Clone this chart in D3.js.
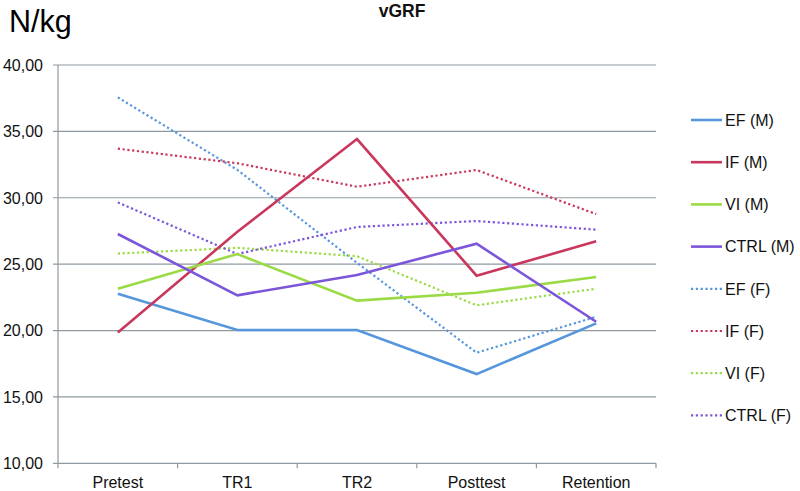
<!DOCTYPE html>
<html>
<head>
<meta charset="utf-8">
<script src="https://cdn.jsdelivr.net/npm/d3@7"></script>
<style>
body{margin:0;background:#fff;}
text{font-family:"Liberation Sans",Arial,sans-serif;}
</style>
</head>
<body>
<svg id="c" width="800" height="491"></svg>
<script>
const categories = ["Pretest","TR1","TR2","Posttest","Retention"];
const yTicks = [10,15,20,25,30,35,40];
const seriesNames = ["EF (M)","IF (M)","VI (M)","CTRL (M)","EF (F)","IF (F)","VI (F)","CTRL (F)"];
const efM   = [22.77,20.04,20.04,16.72,20.54];
const ifM   = [19.86,27.44,34.42,24.13,26.72];
const viM   = [23.15,25.76,22.25,22.85,24.03];
const ctrlM = [27.27,22.65,24.18,26.54,20.66];
const efF   = [37.56,32.10,25.10,18.33,21.04];
const ifF   = [33.70,32.60,30.83,32.09,28.77];
const viF   = [25.80,26.23,25.60,21.90,23.15];
const ctrlF = [29.65,25.76,27.80,28.25,27.60];
const seriesValues = [efM,ifM,viM,ctrlM,efF,ifF,viF,ctrlF];
const colors = ["#5596DD","#C9385C","#9ADB45","#7B55DA","#5596DD","#C9385C","#9ADB45","#7B55DA"];
const dotted = [false,false,false,false,true,true,true,true];

const svg = d3.select("#c");
const pL = 58, pR = 656, pT = 65, pB = 463.3;
const x = d3.scaleBand().domain(categories).range([pL,pR]);
const y = d3.scaleLinear().domain([10,40]).range([pB,pT]);
const gray = "#8E9AA0";

// gridlines
svg.append("g").selectAll("line").data(yTicks).join("line")
  .attr("x1",pL-5).attr("x2",pR)
  .attr("y1",d=>y(d)).attr("y2",d=>y(d))
  .attr("stroke",gray).attr("stroke-width",1.2);

// y labels
svg.append("g").selectAll("text").data(yTicks).join("text")
  .attr("x",43).attr("y",d=>y(d)).attr("dy","0.36em")
  .attr("text-anchor","end").attr("font-size",16).attr("fill","#111")
  .text(d=>d3.format(".2f")(d).replace(".",","));

// y axis line
svg.append("line").attr("x1",pL).attr("x2",pL).attr("y1",pT).attr("y2",pB)
  .attr("stroke",gray).attr("stroke-width",1.2);

// x axis ticks
const bounds = categories.map(c=>x(c)).concat([pR]);
svg.append("g").selectAll("line").data(bounds).join("line")
  .attr("x1",d=>d).attr("x2",d=>d).attr("y1",pB).attr("y2",pB+5)
  .attr("stroke",gray).attr("stroke-width",1.2);

svg.append("g").selectAll("text").data(categories).join("text")
  .attr("x",d=>x(d)+x.bandwidth()/2).attr("y",488)
  .attr("text-anchor","middle").attr("font-size",16).attr("fill","#111")
  .text(d=>d);

// lines
const line = d3.line().x((d,i)=>x(categories[i])+x.bandwidth()/2).y(d=>y(d));
const order = [4,5,6,7,0,1,2,3];
order.forEach(k=>{
  svg.append("path").datum(seriesValues[k])
    .attr("d",line).attr("fill","none")
    .attr("stroke",colors[k])
    .attr("stroke-width",dotted[k]?2.2:2.6)
    .attr("stroke-dasharray",dotted[k]?"2.2,2.6":null)
    .attr("stroke-linejoin","miter");
});

// legend
const lg = svg.append("g").selectAll("g").data(seriesNames).join("g")
  .attr("transform",(d,i)=>`translate(0,${120+i*42.2})`);
lg.append("line").attr("x1",691).attr("x2",722).attr("y1",0).attr("y2",0)
  .attr("stroke",(d,i)=>colors[i])
  .attr("stroke-width",(d,i)=>dotted[i]?2.2:2.6)
  .attr("stroke-dasharray",(d,i)=>dotted[i]?"2.2,2.6":null);
lg.append("text").attr("x",725).attr("y",0).attr("dy","0.36em")
  .attr("font-size",16).attr("fill","#111").text(d=>d);

// title
svg.append("text").attr("x",402).attr("y",17).attr("text-anchor","middle")
  .attr("font-size",17.5).attr("font-weight","bold").attr("fill","#111").text("vGRF");
svg.append("text").attr("x",9).attr("y",32).attr("font-size",30.5).attr("fill","#000").text("N/kg");
</script>
</body>
</html>
